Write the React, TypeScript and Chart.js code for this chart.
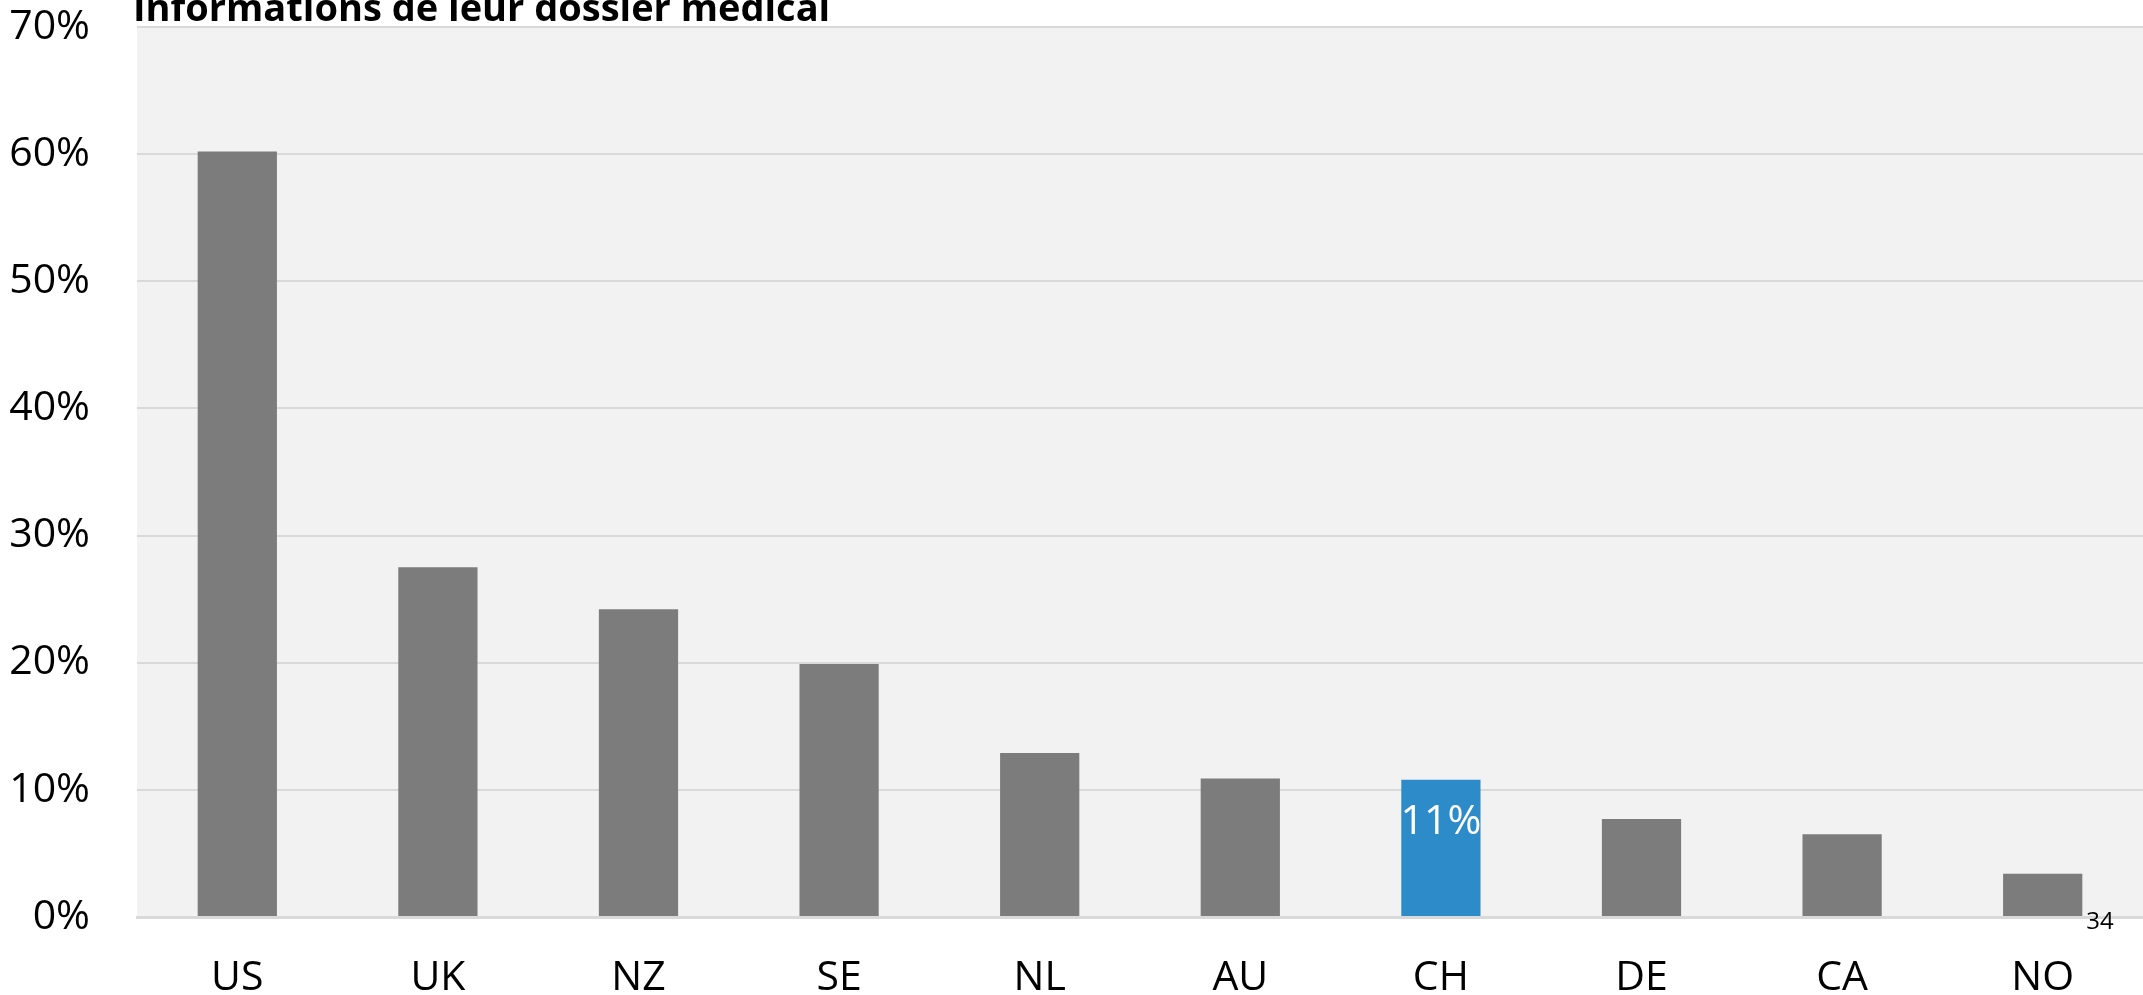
import React, { useEffect, useRef } from "react";
import { Chart, registerables } from "chart.js";

Chart.register(...registerables);

const categories = ["US", "UK", "NZ", "SE", "NL", "AU", "CH", "DE", "CA", "NO"];
const values = [60.2, 27.5, 24.2, 19.9, 12.9, 10.9, 10.8, 7.7, 6.5, 3.4];
const highlight = "CH";
const highlightLabel = "11%";
const titleText = "Informations de leur dossier médical";
const pageNumber = "34";
const yTicks = [0, 10, 20, 30, 40, 50, 60, 70];

const FONT = "'Open Sans', 'Noto Sans', sans-serif";

export default function App() {
  const ref = useRef<HTMLCanvasElement>(null);
  useEffect(() => {
    const canvas = ref.current!;
    const bgPlugin = {
      id: "bg",
      beforeDraw(chart: any) {
        const { ctx, chartArea } = chart;
        ctx.save();
        ctx.fillStyle = "#F2F2F2";
        ctx.fillRect(chartArea.left, chartArea.top, chartArea.right - chartArea.left, chartArea.bottom - chartArea.top);
        ctx.restore();
      },
      afterDraw(chart: any) {
        const { ctx } = chart;
        ctx.save();
        ctx.fillStyle = "#000";
        ctx.font = `bold 38px ${FONT}`;
        ctx.textAlign = "left";
        ctx.textBaseline = "alphabetic";
        ctx.fillText(titleText, 133, 21);
        const meta = chart.getDatasetMeta(0);
        const idx = categories.indexOf(highlight);
        const bar = meta.data[idx];
        ctx.fillStyle = "#FFFFFF";
        ctx.font = `41px ${FONT}`;
        ctx.textAlign = "center";
        ctx.textBaseline = "middle";
        ctx.fillText(highlightLabel, bar.x, bar.y + 43);
        ctx.fillStyle = "#000";
        ctx.font = `24px ${FONT}`;
        ctx.textAlign = "center";
        ctx.fillText(pageNumber, 2100, 922);
        ctx.restore();
      },
    };
    const chart = new Chart(canvas, {
      type: "bar",
      data: {
        labels: categories,
        datasets: [
          {
            data: values,
            backgroundColor: categories.map((c) => (c === highlight ? "#2E8BC9" : "#7C7C7D")),
            borderWidth: 0,
            barPercentage: 0.395,
            categoryPercentage: 1,
          },
        ],
      },
      options: {
        responsive: false,
        animation: false,
        layout: { padding: { top: 27, right: 0, bottom: 0, left: 0 } },
        plugins: { legend: { display: false }, tooltip: { enabled: false }, title: { display: false } },
        scales: {
          x: {
            grid: { display: false },
            border: { display: true, color: "#D9D9D9", width: 3 },
            ticks: { color: "#000", font: { family: FONT, size: 41 }, padding: 29 },
            afterFit(scale: any) {
              scale.height = 78;
              scale.paddingLeft = 0;
              scale.paddingRight = 0;
            },
          },
          y: {
            min: 0,
            max: 70,
            afterBuildTicks(scale: any) {
              scale.ticks = yTicks.map((v) => ({ value: v }));
            },
            grid: { color: "#D9D9D9", lineWidth: 2, drawTicks: false },
            border: { display: false },
            ticks: {
              color: "#000",
              font: { family: FONT, size: 41 },
              padding: 47,
              callback: (v: any) => `${v}%`,
            },
            afterFit(scale: any) {
              scale.width = 137;
              scale.paddingTop = 0;
              scale.paddingBottom = 0;
            },
          },
        },
      },
      plugins: [bgPlugin],
    });
    return () => chart.destroy();
  }, []);
  return (
    <div style={{ position: "fixed", left: 0, top: 0, width: 2143, height: 995, background: "#fff" }}>
      <canvas ref={ref} width={2143} height={995} style={{ display: "block" }} />
    </div>
  );
}
